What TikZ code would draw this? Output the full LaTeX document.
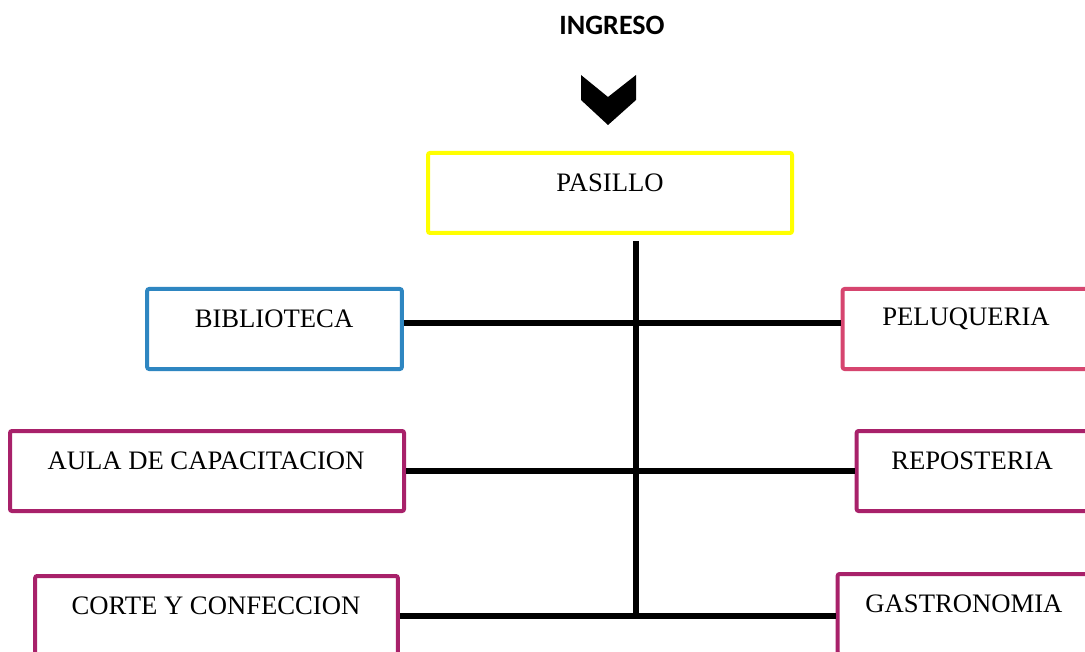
\documentclass[tikz,border=0pt]{standalone}
\usepackage{fontspec}
\setmainfont{Liberation Serif}
\newfontfamily\calib{Carlito}
\definecolor{cyell}{HTML}{FFFF00}
\definecolor{cblue}{HTML}{2E86C1}
\definecolor{cpink}{HTML}{D6456F}
\definecolor{cmag}{HTML}{A8216A}
\tikzset{
  room/.style={draw, line width=3pt, rounded corners=1.5pt, minimum height=60pt, inner sep=0pt},
  rlabel/.style={font=\fontsize{20}{24}\selectfont, inner sep=0pt, anchor=center},
  conn/.style={line width=3.8pt, black},
}
\begin{document}
\begin{tikzpicture}[x=0.75pt,y=-0.75pt]
\useasboundingbox (0,0) rectangle (1085,652);
\fill[white] (0,0) rectangle (1085,652);
\clip (0,0) rectangle (1085,652);
% title
\node[font=\calib\bfseries\fontsize{21}{25}\selectfont, inner sep=0pt] (ingreso) at (612,25) {INGRESO};
% chevron
\fill[black] (581,75) -- (608,97) -- (636,75) -- (636,100) -- (608,125) -- (581,100) -- cycle;
% boxes
\node[room, draw=cyell, minimum width=273pt] (pas) at (610,193) {};
\node[rlabel] (pasT) at (610,183) {PASILLO};
\node[room, draw=cblue, minimum width=191pt] (bib) at (274.5,329) {};
\node[rlabel] (bibT) at (274,319) {BIBLIOTECA};
\node[room, draw=cpink, minimum width=200pt] (pel) at (976,329) {};
\node[rlabel] (pelT) at (966,319) {PELUQUERIA};
\node[room, draw=cmag, minimum width=295.5pt] (aula) at (207,471) {};
\node[rlabel] (aulaT) at (206,461) {AULA DE CAPACITACION};
\node[room, draw=cmag, minimum width=200pt] (rep) at (990,471) {};
\node[rlabel] (repT) at (972,461) {REPOSTERIA};
\node[room, draw=cmag, minimum width=272pt] (cor) at (216.5,616) {};
\node[rlabel] (corT) at (216,606) {CORTE Y CONFECCION};
\node[room, draw=cmag, minimum width=200pt] (gas) at (971,614) {};
\node[rlabel] (gasT) at (964,604) {GASTRONOMIA};
% connectors
\coordinate (vtop) at (636,241);
\coordinate (vbot) at (636,616);
\draw[conn] (vtop) -- (vbot);
\draw[conn] ([yshift=4.5pt]bib.east) -- ([yshift=4.5pt]bib.east -| pel.west);
\draw[conn] (aula.east) -- (aula.east -| rep.west);
\draw[conn] (cor.east) -- (cor.east -| gas.west);
\end{tikzpicture}
\end{document}
